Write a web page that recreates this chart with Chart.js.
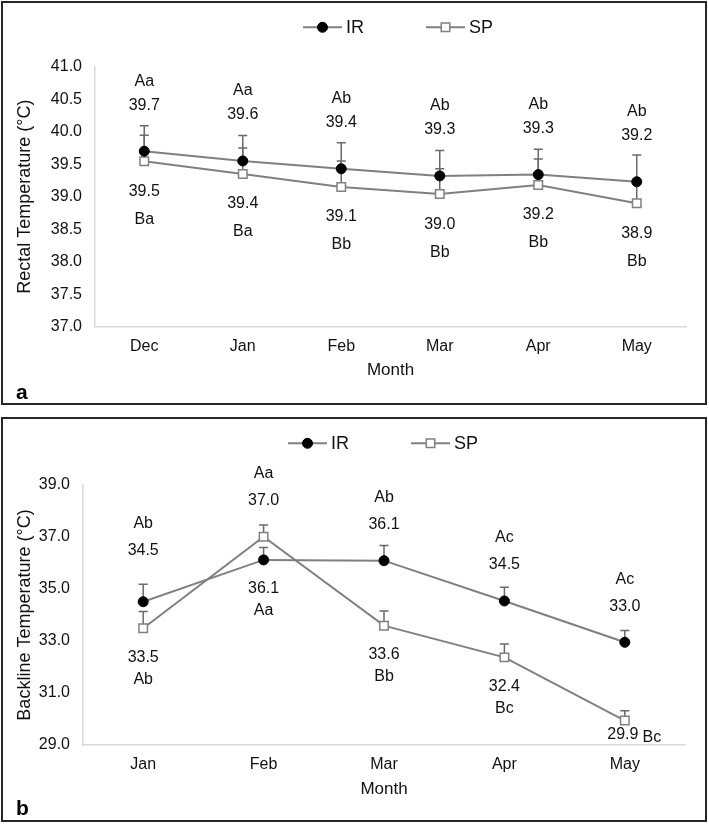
<!DOCTYPE html>
<html>
<head>
<meta charset="utf-8">
<script src="https://cdn.jsdelivr.net/npm/chart.js@4.4.1/dist/chart.umd.min.js"></script>
<style>
  html, body { margin: 0; padding: 0; background: #fff; }
  .panel { position: absolute; left: 1px; width: 702px; border: 2px solid #262626; background: #fff; }
  canvas { display: block; }
</style>
</head>
<body>
<div class="panel" style="top:1px;height:400px;"><canvas id="chartA" width="702" height="400"></canvas></div>
<div class="panel" style="top:417px;height:401px;"><canvas id="chartB" width="702" height="401"></canvas></div>
<script>
// ---------- Panel a: rectal temperature ----------
const monthsA = ['Dec', 'Jan', 'Feb', 'Mar', 'Apr', 'May'];
const irA = [39.70, 39.55, 39.43, 39.32, 39.34, 39.23];
const spA = [39.545, 39.35, 39.15, 39.04, 39.18, 38.90];
const irSdA = [0.39, 0.39, 0.40, 0.39, 0.39, 0.41];
const spSdA = [0.40, 0.40, 0.40, 0.39, 0.40, 0.33];
const irTextA = ['39.7', '39.6', '39.4', '39.3', '39.3', '39.2'];
const spTextA = ['39.5', '39.4', '39.1', '39.0', '39.2', '38.9'];
const irLetA = ['Aa', 'Aa', 'Ab', 'Ab', 'Ab', 'Ab'];
const spLetA = ['Ba', 'Ba', 'Bb', 'Bb', 'Bb', 'Bb'];
const yTicksA = [37.0, 37.5, 38.0, 38.5, 39.0, 39.5, 40.0, 40.5, 41.0];

// ---------- Panel b: backline temperature ----------
const monthsB = ['Jan', 'Feb', 'Mar', 'Apr', 'May'];
const irB = [34.51, 36.12, 36.09, 34.54, 32.95];
const spB = [33.49, 37.01, 33.59, 32.37, 29.94];
const irSdB = [0.67, 0.48, 0.58, 0.53, 0.45];
const spSdB = [0.64, 0.45, 0.56, 0.51, 0.38];
const irTextB = ['34.5', '36.1', '36.1', '34.5', '33.0'];
const spTextB = ['33.5', '37.0', '33.6', '32.4', '29.9'];
const irLetB = ['Ab', 'Aa', 'Ab', 'Ac', 'Ac'];
const spLetB = ['Ab', 'Aa', 'Bb', 'Bc', 'Bc'];
const yTicksB = [29.0, 31.0, 33.0, 35.0, 37.0, 39.0];

const seriesNames = ['IR', 'SP'];

const FONT = '"Liberation Sans", Arial, Helvetica, sans-serif';
const LINE = '#808080';
const ERR = '#6a6a6a';
const TXT = '#111111';

function makePlugins(cfg) {
  const errorBars = {
    id: 'errorBars',
    beforeDatasetsDraw(chart) {
      const ctx = chart.ctx, ys = chart.scales.y;
      cfg.sd.forEach((sd, di) => {
        const meta = chart.getDatasetMeta(di);
        const vals = chart.data.datasets[di].data;
        ctx.save();
        ctx.strokeStyle = ERR; ctx.lineWidth = 1.5;
        meta.data.forEach((pt, i) => {
          const top = ys.getPixelForValue(vals[i] + sd[i]);
          ctx.beginPath();
          ctx.moveTo(pt.x, pt.y); ctx.lineTo(pt.x, top);
          ctx.moveTo(pt.x - 4.5, top); ctx.lineTo(pt.x + 4.5, top);
          ctx.stroke();
        });
        ctx.restore();
      });
    }
  };

  const valueLabels = {
    id: 'valueLabels',
    afterDatasetsDraw(chart) {
      const ctx = chart.ctx, L = cfg.valueLabels;
      ctx.save();
      ctx.font = '16px ' + FONT; ctx.fillStyle = TXT;
      ctx.textAlign = 'center'; ctx.textBaseline = 'middle';
      L.series.forEach((s, di) => {
        const meta = chart.getDatasetMeta(di);
        meta.data.forEach((pt, i) => {
          const p = s.place[i];
          const kind = p.pos;
          const dy = p.dy || 0;
          let nx = pt.x, ny, lx = pt.x, ly;
          if (kind === 'above') { ny = pt.y + L.aboveNum + dy; ly = pt.y + L.aboveLet + dy; }
          else if (kind === 'below') { ny = pt.y + L.belowNum + dy; ly = pt.y + L.belowLet + dy; }
          else { ny = pt.y + 14.5; nx = pt.x - 2; ly = pt.y + 17.5; lx = pt.x + 27; }
          ctx.fillText(s.text[i], nx, ny);
          ctx.fillText(s.letters[i], lx, ly);
        });
      });
      ctx.restore();
    }
  };

  const lineLegend = {
    id: 'lineLegend',
    afterDraw(chart) {
      const ctx = chart.ctx, opts = cfg.legend;
      ctx.save();
      ctx.font = '18px ' + FONT;
      ctx.textBaseline = 'middle'; ctx.textAlign = 'left';
      let x = opts.x; const y = opts.y;
      chart.data.datasets.forEach((ds) => {
        ctx.strokeStyle = ds.borderColor; ctx.lineWidth = 2;
        ctx.beginPath(); ctx.moveTo(x, y); ctx.lineTo(x + 39, y); ctx.stroke();
        ctx.fillStyle = ds.pointBackgroundColor; ctx.strokeStyle = ds.pointBorderColor; ctx.lineWidth = ds.pointBorderWidth;
        ctx.beginPath();
        if (ds.pointStyle === 'circle') {
          ctx.arc(x + 19.5, y, ds.pointRadius, 0, Math.PI * 2);
        } else {
          const h = Math.SQRT1_2 * ds.pointRadius;
          ctx.rect(x + 19.5 - h, y - h, 2 * h, 2 * h);
        }
        ctx.fill(); ctx.stroke();
        ctx.fillStyle = TXT;
        ctx.fillText(ds.label, x + 43, y + 1);
        x += 43 + ctx.measureText(ds.label).width + 62;
      });
      ctx.font = 'bold 21px ' + FONT;
      ctx.textBaseline = 'alphabetic';
      ctx.fillStyle = '#000';
      ctx.fillText(opts.panel, 13, 395.5);
      ctx.restore();
    }
  };
  return [errorBars, valueLabels, lineLegend];
}

function makeChart(id, cfg) {
  return new Chart(document.getElementById(id), {
    type: 'line',
    data: {
      labels: cfg.labels,
      datasets: [
        {
          label: seriesNames[0], data: cfg.ir,
          borderColor: LINE, borderWidth: 2,
          pointStyle: 'circle', pointRadius: 5, pointBorderWidth: 1,
          pointBackgroundColor: '#000', pointBorderColor: '#000',
          tension: 0
        },
        {
          label: seriesNames[1], data: cfg.sp,
          borderColor: LINE, borderWidth: 2,
          pointStyle: 'rect', pointRadius: 6, pointBorderWidth: 1.5,
          pointBackgroundColor: '#fff', pointBorderColor: LINE,
          tension: 0
        }
      ]
    },
    options: {
      responsive: false,
      animation: false,
      events: [],
      layout: { padding: { top: cfg.top, right: cfg.right, bottom: 0, left: 0 } },
      scales: {
        x: {
          offset: true,
          grid: { display: false, drawTicks: false },
          border: { display: true, color: '#d9d9d9', width: 1.5 },
          ticks: { color: TXT, font: { family: FONT, size: 16 }, padding: 10, maxRotation: 0, autoSkip: false },
          title: { display: true, text: 'Month', color: TXT, font: { family: FONT, size: 17 }, padding: { top: 0, bottom: cfg.xTitlePad } },
          afterFit(s) { s.height = cfg.xHeight; }
        },
        y: {
          min: cfg.yTicks[0], max: cfg.yTicks[cfg.yTicks.length - 1],
          grid: { display: false, drawTicks: false },
          border: { display: true, color: '#d9d9d9', width: 1.5 },
          afterBuildTicks(s) { s.ticks = cfg.yTicks.map(v => ({ value: v })); },
          ticks: { color: TXT, font: { family: FONT, size: 16 }, padding: 13, autoSkip: false, callback: v => Number(v).toFixed(1) },
          title: { display: true, text: cfg.yTitle, color: TXT, font: { family: FONT, size: 18 }, padding: { top: 11, bottom: 0 } },
          afterFit(s) { s.width = cfg.yWidth; }
        }
      },
      plugins: {
        legend: { display: false },
        tooltip: { enabled: false }
      }
    },
    plugins: makePlugins(cfg)
  });
}

const A = { pos: 'above' }, B = { pos: 'below' }, R = { pos: 'right' };

makeChart('chartA', {
  labels: monthsA, ir: irA, sp: spA, sd: [irSdA, spSdA], yTicks: yTicksA,
  yTitle: 'Rectal Temperature (°C)',
  top: 63.7, right: 19, yWidth: 92, xHeight: 76.3, xTitlePad: 22.3,
  legend: { x: 300, y: 24.3, panel: 'a' },
  valueLabels: {
    aboveNum: -46, aboveLet: -70, belowNum: 30, belowLet: 58,
    series: [
      { text: irTextA, letters: irLetA, place: [A, A, A, A, A, A] },
      { text: spTextA, letters: spLetA, place: [B, B, B, B, B, B] }
    ]
  }
});

makeChart('chartB', {
  labels: monthsB, ir: irB, sp: spB, sd: [irSdB, spSdB], yTicks: yTicksB,
  yTitle: 'Backline Temperature (°C)',
  top: 66, right: 20, yWidth: 80, xHeight: 75, xTitlePad: 20.3,
  legend: { x: 285, y: 24.3, panel: 'b' },
  valueLabels: {
    aboveNum: -36, aboveLet: -63, belowNum: 29, belowLet: 51,
    series: [
      { text: irTextB, letters: irLetB, place: [{ pos: 'above', dy: -15 }, B, A, A, A] },
      { text: spTextB, letters: spLetB, place: [B, A, B, B, R] }
    ]
  }
});
</script>
</body>
</html>
